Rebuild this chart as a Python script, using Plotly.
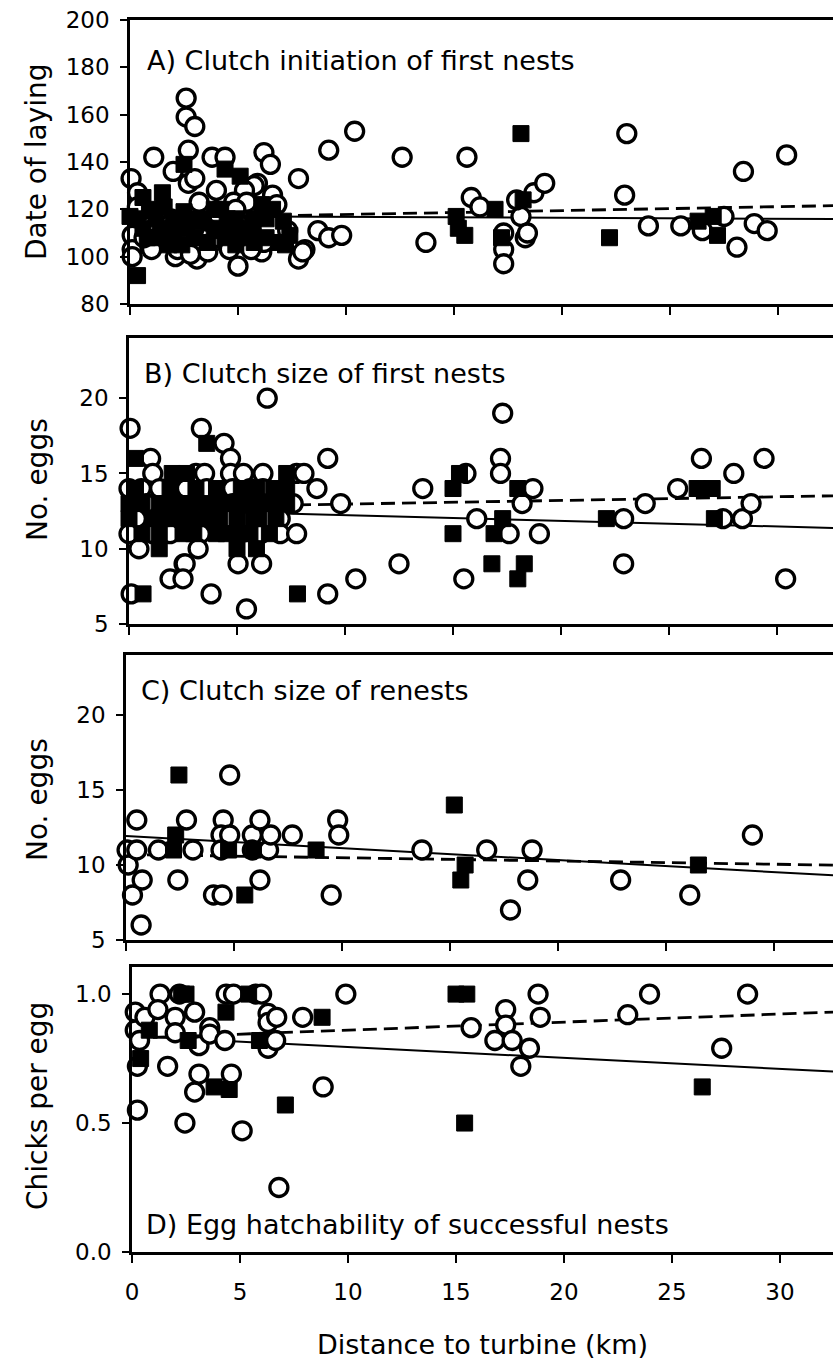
import plotly.graph_objects as go
from plotly.subplots import make_subplots

W, H = 833, 1359
PX_PER_KM = 21.6
FONT = "DejaVu Sans"

# ---- A) Clutch initiation of first nests (date of laying) ----
a_open_km = [2.6, 2.6, 3.0, 1.1, 2.7, 2.0, 0.05, 2.7, 3.0, 3.8, 4.4, 6.2, 6.5, 5.9, 7.8, 9.2, 10.4,
             0.35, 0.9, 0.1, 0.1, 0.1, 1.0, 2.1, 3.1, 5.0, 6.1, 7.8, 8.1, 8.7, 9.2, 9.8, 6.2, 5.75,
             5.3, 4.8, 4.0, 5.6, 6.2, 5.3, 4.5, 0.96, 1.42, 0.65, 1.9, 2.97, 3.6, 4.05, 5.0, 4.05,
             2.2, 2.97, 3.6, 4.6, 5.6, 5.4, 4.9, 3.2, 0.34, 1.27, 7.3, 8.0, 2.8, 6.6, 6.8,
             12.6, 13.7, 15.6, 15.8, 16.2, 17.3, 17.3, 17.3, 18.1, 17.9, 18.3, 18.4, 18.7, 19.2,
             23.0, 22.9, 24.0, 25.5, 26.5, 27.5, 28.1, 28.4, 28.9, 29.5, 30.4]
a_open_day = [167, 159, 155, 142, 145, 136, 133, 131, 133, 142, 142, 144, 139, 131, 133, 145, 153,
              127, 117, 109, 103, 100, 103, 100, 99, 96, 102, 99, 103, 111, 108, 109, 125, 130,
              128, 123, 128, 111, 106, 107, 105, 113, 109, 108, 116, 112, 115, 118, 114, 108,
              103, 103, 102, 103, 103, 123, 120, 123, 121, 119, 111, 102, 101, 126, 122,
              142, 106, 142, 125, 121, 110, 103, 97, 117, 124, 108, 110, 127, 131,
              152, 126, 113, 113, 111, 117, 104, 136, 114, 111, 143]
a_fill_km = [2.5, 4.4, 5.1, 1.5, 0.6, 0.0, 0.35, 7.1, 7.4, 6.9, 6.1, 5.75, 4.2, 3.6, 3.3, 2.5, 2.2,
             1.7, 1.27, 4.5, 5.3, 4.2, 1.58, 7.2, 2.97,
             0.9, 3.9, 6.6, 0.3, 1.2, 2.0, 2.7, 3.4, 4.9, 5.7, 6.3, 0.6, 1.4, 2.6, 3.9, 4.7, 5.7,
             0.8, 2.0, 3.0, 4.4, 5.2, 6.3, 1.8, 2.4, 4.9,
             15.1, 15.2, 15.5, 16.9, 18.1, 17.2, 18.2, 22.2, 26.3, 27.0, 27.2]
a_fill_day = [139, 137, 134, 127, 125, 117, 92, 115, 109, 106, 122, 106, 111, 106, 115, 119, 112,
              109, 108, 116, 112, 120, 121, 105, 108,
              120, 120, 120, 116, 116, 116, 116, 116, 116, 116, 116, 112, 112, 112, 112, 112, 112,
              108, 108, 108, 108, 108, 108, 105, 105, 105,
              117, 112, 109, 120, 152, 108, 124, 108, 115, 117, 109]

# ---- B) Clutch size of first nests ----
b_open_km = [6.4, 0.05, 3.35, 4.4, 4.7, 1.0, 9.2, 1.1, 3.1, 3.5, 4.7, 5.3, 6.2, 7.76, 8.1,
             0.0, 0.57, 1.42, 2.66, 3.6, 4.8, 5.6, 6.2, 8.7,
             0.8, 4.1, 4.8, 6.2, 7.6, 9.8,
             0.34, 2.35, 3.1, 4.5, 6.4, 7.0,
             0.0, 1.1, 1.9, 3.3, 5.1, 6.1, 7.0, 7.76,
             0.46, 3.2, 2.55, 2.6, 5.05, 6.14, 1.9, 2.5, 10.5, 0.1, 3.8, 9.2, 5.44,
             12.5, 13.6, 15.6, 15.5, 16.1, 17.3, 17.2, 17.2, 17.6, 18.7, 18.2, 19.0,
             22.9, 22.9, 23.9, 25.4, 26.5, 27.5, 28.0, 28.4, 28.8, 29.4, 30.4]
b_open_eggs = [20, 18, 18, 17, 16, 16, 16, 15, 15, 15, 15, 15, 15, 15, 15,
               14, 14, 14, 14, 14, 14, 14, 14, 14,
               13, 13, 13, 13, 13, 13,
               12, 12, 12, 12, 12, 12,
               11, 11, 11, 11, 11, 11, 11, 11,
               10, 10, 9, 9, 9, 9, 8, 8, 8, 7, 7, 7, 6,
               9, 14, 15, 8, 12, 19, 16, 15, 11, 14, 13, 11,
               12, 9, 13, 14, 16, 12, 15, 12, 13, 16, 8]
b_fill_km = [3.6, 0.3, 2.0, 2.66, 7.3,
             3.1, 4.05, 6.7, 7.3, 0.3, 1.9, 5.2, 5.9,
             0.0, 1.4, 2.2, 3.0, 3.7, 4.5, 5.6, 6.7, 7.3, 0.6, 1.8, 2.6, 4.1, 5.2, 6.1,
             1.1, 3.7, 5.0, 5.75, 0.0, 1.5, 2.0, 2.6, 3.3, 4.2, 6.0, 6.8,
             2.5, 4.05, 4.5, 5.6, 0.6, 1.4, 3.0, 5.1, 6.5,
             1.4, 5.0, 5.9, 0.65, 7.8,
             15.0, 15.3, 15.0, 16.8, 17.3, 16.9, 18.0, 18.3, 18.0, 22.1, 26.3, 27.0, 27.1]
b_fill_eggs = [17, 16, 15, 15, 15,
               14, 14, 14, 14, 14, 14, 14, 14,
               13, 13, 13, 13, 13, 13, 13, 13, 13, 13, 13, 13, 13, 13, 13,
               12, 12, 12, 12, 12, 12, 12, 12, 12, 12, 12, 12,
               11, 11, 11, 11, 11, 11, 11, 11, 11,
               10, 10, 10, 7, 7,
               14, 15, 11, 9, 12, 11, 14, 9, 8, 12, 14, 14, 12]

# ---- C) Clutch size of renests ----
c_open_km = [0.05, 0.1, 0.3, 0.5, 0.5, 0.75, 0.7, 1.5, 2.8, 2.4, 3.1, 4.5, 4.4, 4.8, 4.4, 4.8,
             4.05, 4.45, 5.85, 6.2, 5.85, 6.6, 6.7, 6.2, 7.7, 9.8, 9.85, 9.5, 13.7, 16.7, 17.8,
             18.6, 18.8, 22.9, 26.1, 29.0]
c_open_eggs = [11, 10, 8, 13, 11, 9, 6, 11, 13, 9, 11, 13, 12, 12, 11, 16,
               8, 8, 12, 13, 11, 11, 12, 9, 12, 13, 12, 8, 11, 11, 7,
               9, 11, 9, 8, 12]
c_fill_km = [2.3, 2.2, 2.45, 4.75, 5.5, 5.9, 8.8, 15.2, 15.7, 15.5, 26.5]
c_fill_eggs = [12, 11, 16, 11, 8, 11, 11, 14, 10, 9, 10]

# ---- D) Egg hatchability of successful nests ----
d_open_km = [0.15, 0.15, 0.25, 0.25, 0.35, 0.6, 1.3, 1.2, 1.65, 2.0, 2.0, 2.2, 2.45, 2.9, 2.9,
             3.1, 3.1, 3.6, 3.6, 4.3, 4.36, 4.6, 4.7, 5.1, 5.73, 6.0, 6.3, 6.3, 6.3, 6.65, 6.7,
             6.8, 7.9, 8.85, 9.9, 15.7, 16.8, 17.3, 17.3, 17.6, 18.0, 18.4, 18.8, 18.9, 22.95,
             23.96, 27.3, 28.5]
d_open_ratio = [0.93, 0.86, 0.55, 0.72, 0.82, 0.91, 1.0, 0.94, 0.72, 0.91, 0.85, 1.0, 0.5, 0.93, 0.62,
                0.69, 0.80, 0.87, 0.845, 0.82, 1.0, 0.69, 1.0, 0.47, 1.0, 1.0, 0.925, 0.89, 0.79, 0.82, 0.91,
                0.25, 0.91, 0.64, 1.0, 0.87, 0.82, 0.94, 0.88, 0.82, 0.72, 0.79, 1.0, 0.91, 0.92,
                1.0, 0.79, 1.0]
d_fill_km = [0.4, 0.8, 2.3, 2.5, 2.6, 3.8, 4.35, 4.5, 5.4, 5.9, 7.1, 8.8, 15.0, 15.5, 15.4, 26.4]
d_fill_ratio = [0.75, 0.86, 1.0, 1.0, 0.82, 0.64, 0.93, 0.63, 1.0, 0.82, 0.57, 0.91, 1.0, 1.0, 0.5, 0.64]

# regression lines: (intercept, slope per km)
solid_fits = [(117.2, -0.04), (12.6, -0.0374), (11.93, -0.08), (0.837, -0.00423)]
dashed_fits = [(116.2, 0.164), (12.72, 0.0244), (10.7, -0.0216), (0.829, 0.00312)]

labels = ["A) Clutch initiation of first nests", "B) Clutch size of first nests",
          "C) Clutch size of renests", "D) Egg hatchability of successful nests"]
y_titles = ["Date of laying", "No. eggs", "No. eggs", "Chicks per egg"]
y_ranges = [[80, 200], [5, 24], [5, 24], [0, 1.105]]
y_ticks = [[80, 100, 120, 140, 160, 180, 200], [5, 10, 15, 20], [5, 10, 15, 20], [0, 0.5, 1.0]]

open_sets = [(a_open_km, a_open_day), (b_open_km, b_open_eggs), (c_open_km, c_open_eggs), (d_open_km, d_open_ratio)]
fill_sets = [(a_fill_km, a_fill_day), (b_fill_km, b_fill_eggs), (c_fill_km, c_fill_eggs), (d_fill_km, d_fill_ratio)]

# panel boxes in pixels: top, bottom, left
boxes = [(20, 304, 130), (338, 624, 129), (655, 940, 126), (967, 1252, 132)]
label_pos = [(145, 60), (142, 374), (139, 690), (144, 1224)]
title_cy = [162, 480, 800, 1106]

fig = make_subplots(rows=4, cols=1)

for i in range(4):
    r = i + 1
    top, bot, left = boxes[i]
    xmax = (W - left) / PX_PER_KM
    for (b0, b1), dash, lw in [(solid_fits[i], "solid", 2), (dashed_fits[i], "14px,7px", 2.8)]:
        xs = [0, xmax]
        fig.add_trace(go.Scatter(x=xs, y=[b0 + b1 * x for x in xs], mode="lines",
                                 line=dict(color="black", width=lw, dash=dash),
                                 showlegend=False, hoverinfo="skip"), row=r, col=1)
    ox, oy = open_sets[i]
    fig.add_trace(go.Scatter(x=ox, y=oy, mode="markers", cliponaxis=False, showlegend=False,
                             marker=dict(symbol="circle", size=18, color="white",
                                         line=dict(color="black", width=3.3))), row=r, col=1)
    fx, fy = fill_sets[i]
    fig.add_trace(go.Scatter(x=fx, y=fy, mode="markers", cliponaxis=False, showlegend=False,
                             marker=dict(symbol="square", size=16, color="black",
                                         line=dict(color="black", width=1))), row=r, col=1)

    fig.update_xaxes(row=r, col=1, domain=[left / W, 1], range=[0, xmax], automargin=False,
                     showline=True, linecolor="black", linewidth=2.5, mirror=True,
                     ticks="outside", ticklen=8, tickwidth=2, tickcolor="black",
                     dtick=5, tick0=0, showgrid=False, zeroline=False,
                     showticklabels=(i == 3), ticklabelstandoff=10,
                     tickfont=dict(family=FONT, size=23, color="black"))
    fig.update_yaxes(row=r, col=1, domain=[1 - bot / H, 1 - top / H], range=y_ranges[i],
                     automargin=False,
                     showline=True, linecolor="black", linewidth=2.5, mirror=False,
                     ticks="outside", ticklen=7, tickwidth=2, tickcolor="black",
                     tickvals=y_ticks[i], tickformat=".1f" if i == 3 else "d",
                     showgrid=False, zeroline=False, ticklabelstandoff=6,
                     tickfont=dict(family=FONT, size=23, color="black"))

    lx, ly = label_pos[i]
    fig.add_annotation(x=lx / W, y=1 - ly / H, xref="paper", yref="paper", text=labels[i],
                       showarrow=False, xanchor="left", yanchor="middle",
                       font=dict(family=FONT, size=27, color="black"))
    fig.add_annotation(x=37 / W, y=1 - title_cy[i] / H, xref="paper", yref="paper",
                       text=y_titles[i], textangle=-90, showarrow=False,
                       xanchor="center", yanchor="middle",
                       font=dict(family=FONT, size=28, color="black"))

fig.add_annotation(x=482 / W, y=1 - 1344 / H, xref="paper", yref="paper",
                   text="Distance to turbine (km)", showarrow=False,
                   xanchor="center", yanchor="middle",
                   font=dict(family=FONT, size=27, color="black"))

fig.update_layout(width=W, height=H, margin=dict(l=0, r=0, t=0, b=0),
                  plot_bgcolor="white", paper_bgcolor="white")

# drop the browser's default page margin so the figure sits at the top-left corner
fig.write_html("out.html", config={"displayModeBar": False},
               post_script="document.body.style.margin = '0px';")
